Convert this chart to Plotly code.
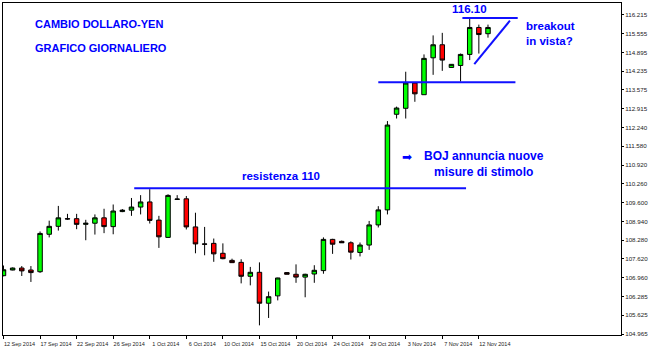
import plotly.graph_objects as go

# Daily bars (broker feed includes short Sunday bars)
dates = ["2014-09-12","2014-09-14","2014-09-15","2014-09-16","2014-09-17","2014-09-18","2014-09-19",
         "2014-09-21","2014-09-22","2014-09-23","2014-09-24","2014-09-25","2014-09-26",
         "2014-09-28","2014-09-29","2014-09-30","2014-10-01","2014-10-02","2014-10-03",
         "2014-10-05","2014-10-06","2014-10-07","2014-10-08","2014-10-09","2014-10-10",
         "2014-10-12","2014-10-13","2014-10-14","2014-10-15","2014-10-16","2014-10-17",
         "2014-10-19","2014-10-20","2014-10-21","2014-10-22","2014-10-23","2014-10-24",
         "2014-10-26","2014-10-27","2014-10-28","2014-10-29","2014-10-30","2014-10-31",
         "2014-11-02","2014-11-03","2014-11-04","2014-11-05","2014-11-06","2014-11-07",
         "2014-11-09","2014-11-10","2014-11-11","2014-11-12","2014-11-13"]
opens = [107.02,107.22,107.29,107.22,107.16,108.48,108.76,109.03,109.03,108.83,108.87,109.06,108.75,
         109.28,109.33,109.44,109.62,108.98,108.37,109.71,109.73,108.74,108.14,108.16,107.81,
         107.56,107.49,107.00,107.14,106.05,106.31,107.13,107.07,106.97,107.08,107.20,108.30,
         108.23,108.18,107.84,108.10,108.81,109.34,112.71,112.92,113.81,113.40,114.70,115.16,
         114.36,114.43,114.82,115.77,115.55]
highs = [107.38,107.31,107.36,107.36,108.58,108.96,109.48,109.20,109.20,108.99,109.18,109.38,109.53,
         109.37,109.76,109.86,110.07,109.13,109.89,109.86,109.83,109.24,108.74,108.33,108.16,
         107.62,107.60,107.33,107.49,106.46,106.95,107.15,107.42,107.09,107.39,108.37,108.32,
         108.26,108.23,108.19,108.95,109.47,112.47,112.98,114.21,113.81,114.82,115.49,115.58,
         114.48,114.85,116.10,115.87,115.87]
lows = [107.00,107.21,107.01,106.80,107.12,108.37,108.61,108.99,108.66,108.27,108.47,108.52,108.48,
        109.26,109.13,109.18,108.86,108.00,108.35,109.69,108.65,107.81,107.74,107.51,107.60,
        107.47,106.75,106.68,105.27,105.53,106.15,107.07,106.77,106.26,106.77,107.09,107.79,
        108.18,107.59,107.70,107.93,108.72,109.18,112.56,112.56,113.15,113.40,114.10,114.24,
        114.35,113.86,114.62,114.85,115.41]
closes = [107.23,107.29,107.19,107.13,108.51,108.76,109.06,109.02,108.83,108.87,109.06,108.75,109.30,
          109.33,109.44,109.62,108.97,108.39,109.85,109.72,108.74,108.14,108.13,107.79,107.62,
          107.48,107.00,107.14,106.05,106.28,106.94,107.07,106.97,107.07,107.21,108.30,108.13,
          108.18,107.85,108.10,108.81,109.34,112.33,112.93,113.81,113.43,114.68,115.16,114.62,
          114.47,114.82,115.77,115.52,115.77]

# Axis labels
xtick_dates = ["2014-09-12","2014-09-17","2014-09-22","2014-09-26","2014-10-01","2014-10-06","2014-10-10",
               "2014-10-15","2014-10-20","2014-10-24","2014-10-29","2014-11-03","2014-11-07","2014-11-12"]
xtick_text = ["12 Sep 2014","17 Sep 2014","22 Sep 2014","26 Sep 2014","1 Oct 2014","6 Oct 2014","10 Oct 2014",
              "15 Oct 2014","20 Oct 2014","24 Oct 2014","29 Oct 2014","3 Nov 2014","7 Nov 2014","12 Nov 2014"]
ytick_text = ["116.215","115.555","114.895","114.235","113.575","112.915","112.240","111.580","110.920",
              "110.260","109.600","108.940","108.280","107.620","106.960","106.285","105.625","104.965"]
ytick_top, ytick_bottom = 116.215, 104.965

# Annotated levels
resistance = 110.10
support = 113.84
top_level = 116.10
trend_from = (51.5, 114.48)
trend_to = (55.4, 116.01)

BLUE = "#0000ff"
LINE_BLUE = "#1010ff"

nt = len(ytick_text)
ytick_vals = [ytick_top - i * (ytick_top - ytick_bottom) / (nt - 1) for i in range(nt)]

fig = go.Figure()
fig.add_trace(go.Candlestick(
    x=dates, open=opens, high=highs, low=lows, close=closes,
    increasing=dict(fillcolor="#00ff00", line=dict(color="#000000", width=1)),
    decreasing=dict(fillcolor="#ff0000", line=dict(color="#000000", width=1)),
    whiskerwidth=0, showlegend=False, hoverinfo="skip",
))

line = dict(color=LINE_BLUE, width=2)
fig.add_shape(type="line", x0=14.3, x1=50.6, y0=resistance, y1=resistance, line=line)
fig.add_shape(type="line", x0=41.0, x1=56.0, y0=support, y1=support, line=line)
fig.add_shape(type="line", x0=50.2, x1=56.25, y0=top_level, y1=top_level, line=line)
fig.add_shape(type="line", x0=trend_from[0], y0=trend_from[1], x1=trend_to[0], y1=trend_to[1], line=line)

ffam = "Liberation Sans, Arial, sans-serif"
def txt(x, y, s, size=11, xanchor="left", align="left", family=ffam):
    fig.add_annotation(x=x, y=y, text=s, showarrow=False, xanchor=xanchor, yanchor="middle",
                       align=align, font=dict(family=family, size=size, color=BLUE))

txt(3.2, 115.89, "<b>CAMBIO DOLLARO-YEN</b>")
txt(3.2, 115.045, "<b>GRAFICO GIORNALIERO</b>")
txt(30.4, 110.52, "<b>resistenza 110</b>", size=11.5, xanchor="center")
txt(51.0, 116.43, "<b>116.10</b>", size=11.5, xanchor="center")
txt(56.9, 115.545, "<b>breakout<br>in vista?</b>", size=11.5)
txt(44.1, 111.215, "➡", size=12, xanchor="center", family="DejaVu Sans")
txt(52.6, 110.955, "<b>BOJ annuncia nuove<br>misure di stimolo</b>", size=12, xanchor="center", align="center")

fig.update_layout(
    width=650, height=349,
    margin=dict(l=2, r=26, t=2, b=10),
    paper_bgcolor="white", plot_bgcolor="white",
    xaxis=dict(type="category", range=[-0.054, 67.55], rangeslider=dict(visible=False),
               tickmode="array", tickvals=xtick_dates, ticktext=xtick_text,
               ticks="outside", ticklen=3, tickcolor="#000", showgrid=False,
               showline=True, linecolor="#000", linewidth=1, mirror=True,
               tickfont=dict(family=ffam, size=5.5, color="#222"), ticklabelshift=16,
               tickangle=0, zeroline=False),
    yaxis=dict(side="right", range=[104.930, 116.632], tickmode="array",
               tickvals=ytick_vals, ticktext=ytick_text,
               ticks="outside", ticklen=2, tickcolor="#000", showgrid=False,
               showline=True, linecolor="#000", linewidth=1, mirror=True,
               tickfont=dict(family=ffam, size=6.2, color="#222"), zeroline=False),
)

fig.write_html("out.html")
